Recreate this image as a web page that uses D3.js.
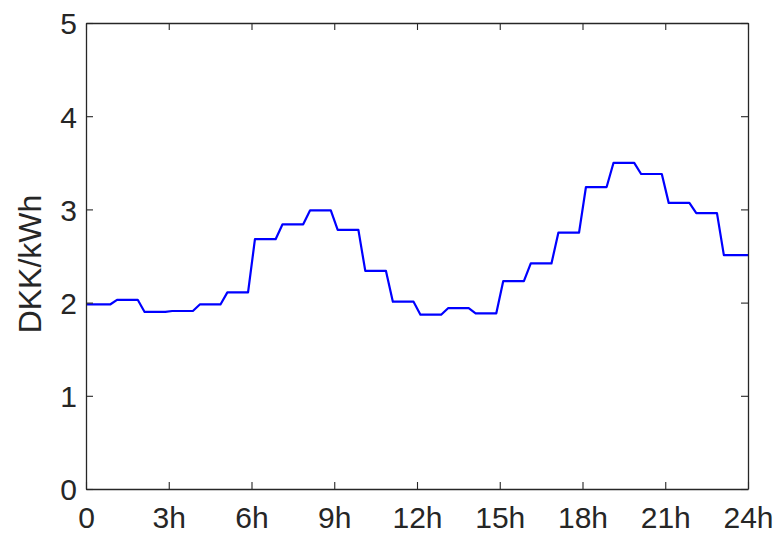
<!DOCTYPE html>
<html>
<head>
<meta charset="utf-8">
<script src="https://cdn.jsdelivr.net/npm/d3@7"></script>
<style>
  body { margin: 0; background: #ffffff; }
  .ticklabel { font-family: "Liberation Sans", Arial, sans-serif; font-size: 30px; fill: #262626; }
  .ylabel { font-family: "Liberation Sans", Arial, sans-serif; font-size: 32px; fill: #262626; }
</style>
</head>
<body>
<div id="chart"></div>
<script>
// hourly price over one day (DKK/kWh)
var hours = [0, 1, 2, 3, 4, 5, 6, 7, 8, 9, 10, 11, 12, 13, 14, 15, 16, 17, 18, 19, 20, 21, 22, 23];
var price = [1.98, 2.03, 1.90, 1.91, 1.98, 2.11, 2.68, 2.84, 2.99, 2.78, 2.34, 2.01,
             1.87, 1.94, 1.885, 2.23, 2.42, 2.75, 3.24, 3.50, 3.38, 3.07, 2.96, 2.51];

var xTicks = [0, 3, 6, 9, 12, 15, 18, 21, 24];
var xTickLabels = ['0', '3h', '6h', '9h', '12h', '15h', '18h', '21h', '24h'];
var yTicks = [0, 1, 2, 3, 4, 5];
var yLabel = 'DKK/kWh';

var priceChart = {

    config: {
        w: 776,
        h: 536,
        left: 86,
        top: 23,
        right: 28,
        bottom: 47,
        ramp: 0.125,      // half width of the change between two hours
        tick: 7,
        axcolor: '#262626',
        linecolor: '#0000ff',
    },

    run: function() {
        var c = priceChart.config;
        var pw = c.w - c.left - c.right;
        var ph = c.h - c.top - c.bottom;

        var svg = d3.select('#chart').append('svg')
            .attr('width', c.w)
            .attr('height', c.h);
        var g = svg.append('g')
            .attr('transform', 'translate(' + c.left + ',' + c.top + ')');

        var x = d3.scaleLinear().domain([0, 24]).range([0, pw]);
        var y = d3.scaleLinear().domain([0, 5]).range([ph, 0]);

        // each hour is flat, with a short ramp across the hour boundary
        var pts = [];
        price.forEach(function(v, i) {
            var t0 = i === 0 ? 0 : hours[i] + c.ramp;
            var t1 = i === price.length - 1 ? 24 : hours[i] + 1 - c.ramp;
            pts.push([t0, v]);
            pts.push([t1, v]);
        });

        var line = d3.line()
            .x(function(d) { return x(d[0]); })
            .y(function(d) { return y(d[1]); });

        g.append('path')
            .datum(pts)
            .attr('d', line)
            .attr('fill', 'none')
            .attr('stroke', c.linecolor)
            .attr('stroke-width', 2.2)
            .attr('stroke-linejoin', 'round');

        // axes, ticks inside on all four sides (box on)
        var fmtX = function(d, i) { return xTickLabels[i]; };
        var bottomAx = g.append('g')
            .attr('transform', 'translate(0,' + ph + ')')
            .call(d3.axisBottom(x).tickValues(xTicks).tickFormat(fmtX)
                .tickSizeInner(-c.tick).tickSizeOuter(0).tickPadding(16));
        var topAx = g.append('g')
            .call(d3.axisTop(x).tickValues(xTicks).tickFormat('')
                .tickSizeInner(-c.tick).tickSizeOuter(0));
        var leftAx = g.append('g')
            .call(d3.axisLeft(y).tickValues(yTicks).tickFormat(d3.format('d'))
                .tickSizeInner(-c.tick).tickSizeOuter(0).tickPadding(9));
        var rightAx = g.append('g')
            .attr('transform', 'translate(' + pw + ',0)')
            .call(d3.axisRight(y).tickValues(yTicks).tickFormat('')
                .tickSizeInner(-c.tick).tickSizeOuter(0));

        [bottomAx, topAx, leftAx, rightAx].forEach(function(ax) {
            ax.select('.domain').attr('stroke', c.axcolor).attr('stroke-width', 1.3);
            ax.selectAll('.tick line').attr('stroke', c.axcolor).attr('stroke-width', 1.1);
            ax.selectAll('.tick text')
                .attr('class', 'ticklabel')
                .attr('font-family', null)
                .attr('font-size', null)
                .attr('fill', null);
        });
        bottomAx.selectAll('.tick text').attr('dy', '0.75em');
        leftAx.selectAll('.tick text').attr('dy', '0.36em');

        svg.append('text')
            .attr('class', 'ylabel')
            .attr('text-anchor', 'middle')
            .attr('transform', 'translate(41,' + (c.top + ph / 2 + 8) + ') rotate(-90)')
            .text(yLabel);
    },
};

priceChart.run();
</script>
</body>
</html>
